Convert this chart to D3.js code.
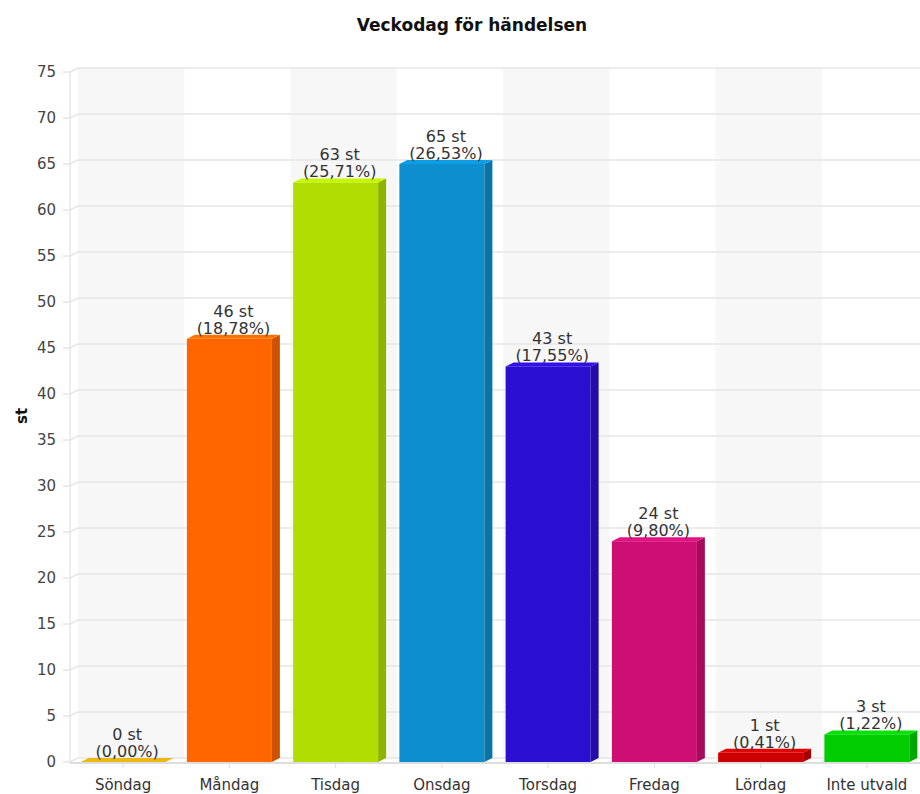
<!DOCTYPE html>
<html>
<head>
<meta charset="utf-8">
<script src="https://cdn.jsdelivr.net/npm/d3@7"></script>
<style>
body{margin:0;background:#fff}
text{font-family:"DejaVu Sans",Verdana,sans-serif}
</style>
</head>
<body>
<div id="chart"></div>
<script>
var days = ["Söndag","Måndag","Tisdag","Onsdag","Torsdag","Fredag","Lördag","Inte utvald"]
var counts = [0,46,63,65,43,24,1,3]
var barColors = ["#d4a514","#ff6600","#b1de00","#0d8ecf","#2b0fd0","#cd0f75","#cc0000","#00cc00"]
var yTicks = [0,5,10,15,20,25,30,35,40,45,50,55,60,65,70,75]

var w = 920
var h = 794
var plotLeft = 70
var plotRight = 920
var plotTop = 72
var plotBottom = 762
var dx = 8
var dy = -4

var total = d3.sum(counts)

var svg = d3.select("#chart").append("svg").attr("width",w).attr("height",h)

var x = d3.scaleBand().domain(days).range([plotLeft,plotRight]).paddingInner(0).paddingOuter(0)
var y = d3.scaleLinear().domain([0,75]).range([plotBottom,plotTop])

// alternating bands on back wall
svg.selectAll(".band")
.data(days.filter(function(d,i){return i%2==0}))
.enter()
.append("rect")
.attr("class","band")
.attr("x",function(d){return x(d)+dx})
.attr("y",y(75)+dy)
.attr("width",x.bandwidth())
.attr("height",y(0)-y(75))
.attr("fill","#f7f7f7")

// grid lines
svg.selectAll(".grid")
.data(yTicks)
.enter()
.append("path")
.attr("class","grid")
.attr("d",function(d){
	return "M"+(plotLeft-7)+","+y(d)+"L"+plotLeft+","+y(d)+"L"+(plotLeft+dx)+","+(y(d)+dy)+"L"+plotRight+","+(y(d)+dy)
})
.attr("fill","none")
.attr("stroke","#e6e6e6")
.attr("stroke-width",1.5)

// left wall line
svg.append("line")
.attr("x1",plotLeft).attr("x2",plotLeft)
.attr("y1",y(75)).attr("y2",y(0))
.attr("stroke","#e6e6e6").attr("stroke-width",1.5)

// x axis line + ticks
svg.append("line")
.attr("x1",plotLeft).attr("x2",plotRight)
.attr("y1",y(0)+1).attr("y2",y(0)+1)
.attr("stroke","#dddddd").attr("stroke-width",2)

svg.selectAll(".xtick")
.data(days)
.enter()
.append("line")
.attr("x1",function(d){return x(d)+x.bandwidth()/2})
.attr("x2",function(d){return x(d)+x.bandwidth()/2})
.attr("y1",y(0)+1).attr("y2",y(0)+6)
.attr("stroke","#dddddd")

// tick labels
svg.selectAll(".ylabel")
.data(yTicks)
.enter()
.append("text")
.text(function(d){return d})
.attr("x",56)
.attr("y",function(d){return y(d)+5})
.attr("text-anchor","end")
.style("font-size","15px")
.attr("fill","#444")

svg.selectAll(".xlabel")
.data(days)
.enter()
.append("text")
.text(function(d){return d})
.attr("x",function(d){return x(d)+x.bandwidth()/2})
.attr("y",790)
.attr("text-anchor","middle")
.style("font-size","15px")
.attr("fill","#333")

// bars
var barW = x.bandwidth()*0.8
var bars = svg.selectAll(".bar")
.data(days)
.enter()
.append("g")
.attr("class","bar")

bars.each(function(d,i){
	var g = d3.select(this)
	var x0 = x(d)+(x.bandwidth()-barW)/2
	var x1 = x0+barW
	var yt = y(counts[i])
	var y0 = y(0)
	var c = d3.color(barColors[i])
	if(counts[i]>0){
		g.append("rect").attr("x",x0).attr("y",yt).attr("width",barW).attr("height",y0-yt).attr("fill",c)
		g.append("path")
		.attr("d","M"+x1+","+yt+"L"+(x1+dx)+","+(yt+dy)+"L"+(x1+dx)+","+(y0+dy)+"L"+x1+","+y0+"Z")
		.attr("fill",c.darker(0.6))
	}
	g.append("path")
	.attr("d","M"+x0+","+yt+"L"+(x0+dx)+","+(yt+dy)+"L"+(x1+dx)+","+(yt+dy)+"L"+x1+","+yt+"Z")
	.attr("fill",c.brighter(0.3))
})

// value labels
bars.append("text")
.text(function(d,i){return counts[i]+" st"})
.attr("x",function(d){return x(d)+x.bandwidth()/2+4})
.attr("y",function(d,i){return y(counts[i])-22})
.attr("text-anchor","middle")
.style("font-size","16px")
.attr("fill","#333")

bars.append("text")
.text(function(d,i){return "("+(counts[i]/total*100).toFixed(2).replace(".",",")+"%)"})
.attr("x",function(d){return x(d)+x.bandwidth()/2+4})
.attr("y",function(d,i){return y(counts[i])-5})
.attr("text-anchor","middle")
.style("font-size","16px")
.attr("fill","#333")

// titles
svg.append("text").text("Veckodag för händelsen")
.attr("x",472).attr("y",31)
.attr("text-anchor","middle")
.style("font-weight","bold")
.style("font-size","17px")
.attr("fill","#111")

svg.append("text").text("st")
.attr("transform","translate(27,416) rotate(-90)")
.attr("text-anchor","middle")
.style("font-weight","bold")
.style("font-size","15px")
.attr("fill","#111")
</script>
</body>
</html>
